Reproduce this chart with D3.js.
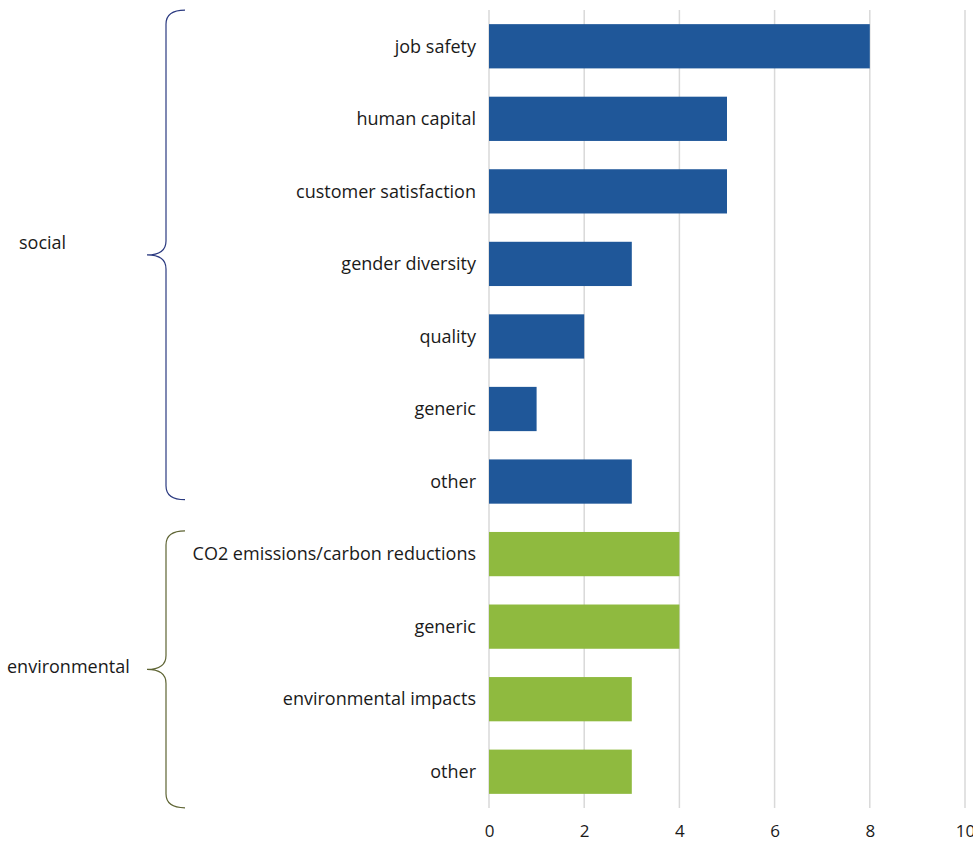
<!DOCTYPE html>
<html><head><meta charset="utf-8">
<script src="https://cdn.jsdelivr.net/npm/d3@7"></script>
<style>body{margin:0;background:#fff}svg{display:block}text{font-family:"Open Sans",sans-serif;fill:#1a1a1a}</style>
</head><body>
<svg id="c" width="973" height="844"></svg>
<script>
const categories = ["job safety","human capital","customer satisfaction","gender diversity","quality","generic","other","CO2 emissions/carbon reductions","generic","environmental impacts","other"];
const groups = ["social","social","social","social","social","social","social","environmental","environmental","environmental","environmental"];
const values = [8,5,5,3,2,1,3,4,4,3,3];
const xTicks = [0,2,4,6,8,10];
const groupNames = ["social","environmental"];
const colors = {social:"#1f5799", environmental:"#8fba3f"};
const braceColors = {social:"#2b3a80", environmental:"#5e6433"};
const braceStyle = {
  social:{topOff:-14, botOff:-4, labelX:19, labelDy:-12},
  environmental:{topOff:-1, botOff:14, labelX:7, labelDy:-3}
};

const svg = d3.select("#c");
const x = d3.scaleLinear().domain([0,10]).range([489,965]);
const y = d3.scaleBand().domain(d3.range(categories.length)).range([10,808]).paddingInner(0.39).paddingOuter(0.195);

// gridlines
svg.append("g").selectAll("line").data(xTicks).join("line")
  .attr("x1",d=>x(d)).attr("x2",d=>x(d)).attr("y1",10).attr("y2",808)
  .attr("stroke","#d9d9d9").attr("stroke-width",1.5);

// axis labels
const ax = svg.append("g").attr("transform","translate(0,808)")
  .call(d3.axisBottom(x).tickValues(xTicks).tickSize(0).tickPadding(17).tickFormat(d3.format("d")));
ax.select(".domain").remove();
ax.selectAll("text").attr("font-size",17).attr("font-family","Open Sans, sans-serif").attr("fill","#1a1a1a");

// bars
svg.append("g").selectAll("rect").data(values).join("rect")
  .attr("x",x(0)).attr("y",(d,i)=>y(i)).attr("width",d=>x(d)-x(0)).attr("height",y.bandwidth())
  .attr("fill",(d,i)=>colors[groups[i]]);

// category labels
svg.append("g").selectAll("text").data(categories).join("text")
  .attr("x",476).attr("y",(d,i)=>y(i)+y.bandwidth()/2).attr("dy","0.35em")
  .attr("text-anchor","end").attr("font-size",18).text(d=>d);

// braces
groupNames.forEach(g=>{
  const idx = d3.range(categories.length).filter(i=>groups[i]===g);
  const s = braceStyle[g];
  const top = y(idx[0]) + s.topOff;
  const bot = y(idx[idx.length-1]) + y.bandwidth() + s.botOff;
  const mid = (top+bot)/2;
  const xr = 185, xv = 166, xt = 147, r = 14;
  const p = `M${xr},${top} Q${xv},${top} ${xv},${top+r} L${xv},${mid-r} Q${xv},${mid} ${xt},${mid} Q${xv},${mid} ${xv},${mid+r} L${xv},${bot-r} Q${xv},${bot} ${xr},${bot}`;
  svg.append("path").attr("d",p).attr("fill","none").attr("stroke",braceColors[g]).attr("stroke-width",1.2);
  svg.append("text").attr("x",s.labelX).attr("y",mid+s.labelDy).attr("dy","0.35em").attr("font-size",18).text(g);
});
</script>
</body></html>
